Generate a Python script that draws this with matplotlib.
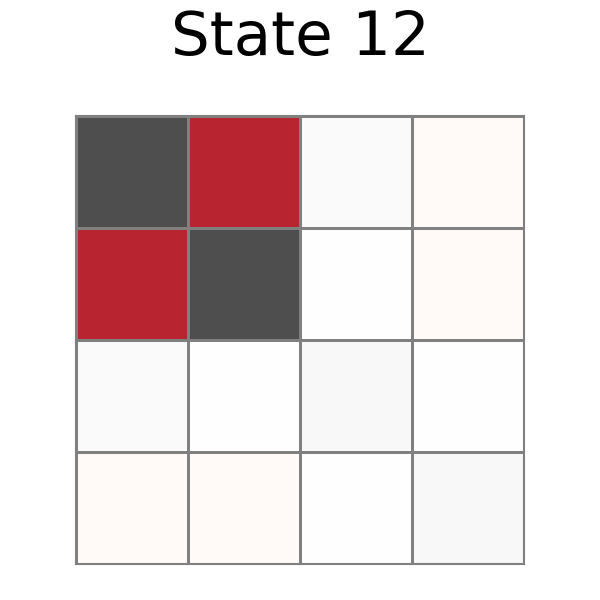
import matplotlib
matplotlib.use("Agg")
import matplotlib.pyplot as plt
import numpy as np

title = "State 12"
rows = [0, 1, 2, 3]
cols = [0, 1, 2, 3]
row0 = [0.497, -0.478, 0.021, -0.017]
row1 = [-0.478, 0.497, 0.0, -0.017]
row2 = [0.021, 0.0, 0.028, 0.002]
row3 = [-0.017, -0.017, -0.003, 0.028]
values = np.array([row0, row1, row2, row3])

fig = plt.figure(figsize=(6, 6), dpi=100)
ax = fig.add_axes([76/600, 36/600, 448/600, 448/600])
ax.pcolormesh(np.arange(5), np.arange(5), values, cmap="RdGy",
              vmin=-0.625, vmax=0.625, edgecolors="#808080", linewidth=2.0)
ax.set_xlim(0, 4)
ax.set_ylim(4, 0)
ax.set_xticks([])
ax.set_yticks([])
for s in ax.spines.values():
    s.set_color("#808080")
    s.set_linewidth(1.5)
fig.suptitle(title, fontsize=44, y=0.985)
fig.savefig("out.png", dpi=100)
